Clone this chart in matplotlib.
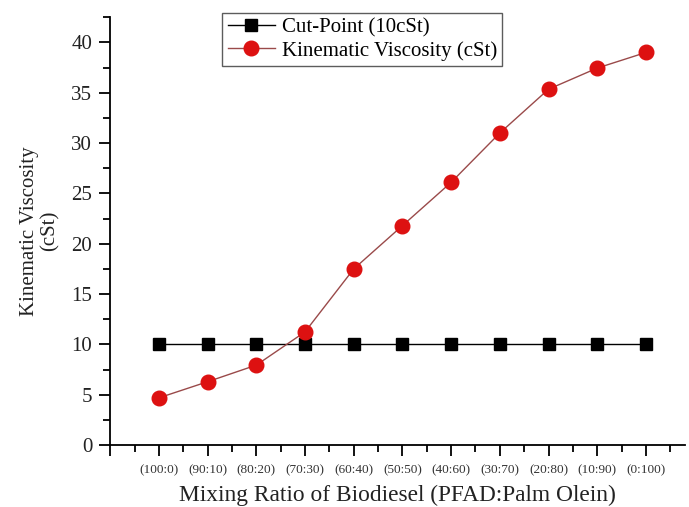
import matplotlib
matplotlib.use("Agg")
import matplotlib.pyplot as plt
from matplotlib.ticker import MultipleLocator, FixedLocator

ratios = ["(100:0)", "(90:10)", "(80:20)", "(70:30)", "(60:40)", "(50:50)",
          "(40:60)", "(30:70)", "(20:80)", "(10:90)", "(0:100)"]
cut_point = [10, 10, 10, 10, 10, 10, 10, 10, 10, 10, 10]
viscosity = [4.7, 6.3, 7.95, 11.25, 17.5, 21.8, 26.1, 31.0, 35.35, 37.45, 39.0]

plt.rcParams['font.family'] = ['Liberation Serif', 'DejaVu Serif']

fig = plt.figure(figsize=(6.89, 5.07), dpi=100)
ax = fig.add_axes([0.160, 0.122, 0.834, 0.844])

x = list(range(1, len(ratios) + 1))
ax.plot(x, cut_point, color='black', lw=1.0, marker='s', markersize=8.5,
        markerfacecolor='black', markeredgecolor='black', label='Cut-Point (10cSt)')
ax.plot(x, viscosity, color='#9a4a4a', lw=1.0, marker='o', markersize=10.5,
        markerfacecolor='#dd1111', markeredgecolor='#dd1111', label='Kinematic Viscosity (cSt)')

ax.set_xlim(0, 11.8)
ax.set_ylim(0, 42.5)
ax.spines['top'].set_visible(False)
ax.spines['right'].set_visible(False)
for s in ['left', 'bottom']:
    ax.spines[s].set_linewidth(1.3)

ax.xaxis.set_major_locator(FixedLocator(list(range(0, 12))))
ax.set_xticklabels([''] + ratios)
ax.xaxis.set_minor_locator(FixedLocator([i + 0.5 for i in range(0, 12)]))
ax.yaxis.set_major_locator(MultipleLocator(5))
ax.yaxis.set_minor_locator(MultipleLocator(2.5))

ax.tick_params(axis='both', which='major', direction='out', length=8, width=1.3)
ax.tick_params(axis='both', which='minor', direction='out', length=5, width=1.3)
ax.tick_params(axis='x', which='major', labelsize=9.5, labelcolor='#333333', pad=6)
ax.tick_params(axis='y', which='major', labelsize=15, labelcolor='#222222', pad=5)

ax.set_xlabel('Mixing Ratio of Biodiesel (PFAD:Palm Olein)', fontsize=16.8, color='#222222', labelpad=6)
ax.set_ylabel('Kinematic Viscosity\n(cSt)', fontsize=15, color='#222222', linespacing=1.15, labelpad=8)

leg = ax.legend(loc='upper left', bbox_to_anchor=(0.195, 1.01), fontsize=15,
                frameon=True, fancybox=False, edgecolor='#333333', borderpad=0.25,
                handlelength=2.3, handletextpad=0.3, labelspacing=0.15, borderaxespad=0)
leg.get_frame().set_linewidth(1.0)

fig.savefig('out.png', dpi=100)
